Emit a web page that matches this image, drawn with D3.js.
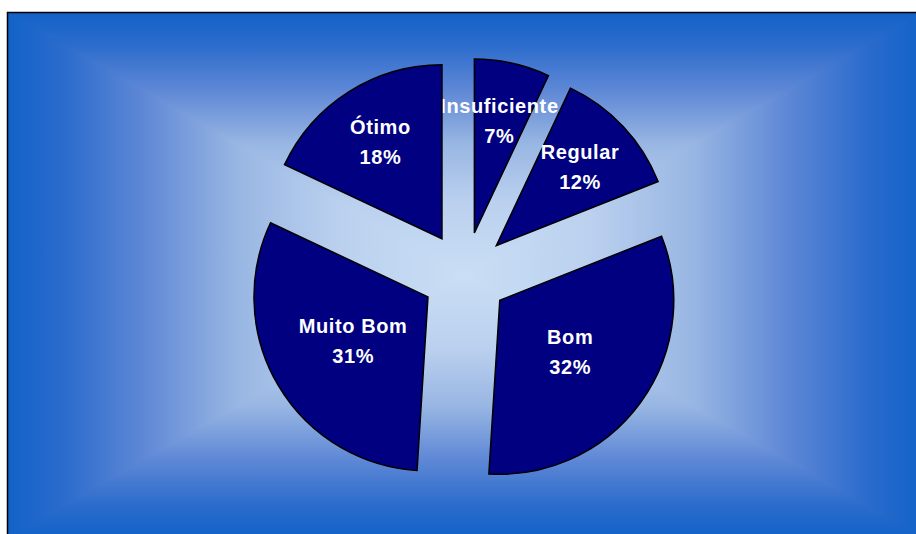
<!DOCTYPE html>
<html>
<head>
<meta charset="utf-8">
<script src="https://cdn.jsdelivr.net/npm/d3@7"></script>
<style>
  html, body { margin: 0; padding: 0; background: #ffffff; }
  svg { display: block; }
  .lbl { font-family: "Liberation Sans", Arial, sans-serif; font-weight: bold; font-size: 20px; fill: #ffffff; letter-spacing: 0.6px; }
</style>
</head>
<body>
<svg id="chart" width="916" height="534"></svg>
<script>
// Rating distribution
const categories = ["Insuficiente", "Regular", "Bom", "Muito Bom", "Ótimo"];
const values = [7, 12, 32, 31, 18];

const W = 916, H = 534;
const svg = d3.select("#chart");

// Chart area frame (runs past the right and bottom of the page)
const frame = { x: 7, y: 12, w: 916, h: 526 };
const cx = frame.x + frame.w / 2, cy = frame.y + frame.h / 2;

// Rectangular "from centre" gradient: four gradients meeting at the centre
const defs = svg.append("defs");
const stops = [
  [0.00, "#1262c8"],
  [0.12, "#2a6bcc"],
  [0.30, "#5f88d6"],
  [0.50, "#98b6e3"],
  [0.72, "#bad0ee"],
  [1.00, "#cadef4"]
];
function grad(id, x1, y1, x2, y2) {
  const g = defs.append("linearGradient").attr("id", id)
    .attr("gradientUnits", "userSpaceOnUse")
    .attr("x1", x1).attr("y1", y1).attr("x2", x2).attr("y2", y2);
  stops.forEach(s => g.append("stop").attr("offset", s[0]).attr("stop-color", s[1]));
}
grad("gL", frame.x, 0, cx, 0);
grad("gR", frame.x + frame.w, 0, cx, 0);
grad("gT", 0, frame.y, 0, cy);
grad("gB", 0, frame.y + frame.h, 0, cy);

const x0 = frame.x, x1 = frame.x + frame.w, y0 = frame.y, y1 = frame.y + frame.h;
const bg = svg.append("g");
bg.append("rect").attr("x", x0).attr("y", y0).attr("width", cx - x0).attr("height", frame.h).attr("fill", "url(#gL)");
bg.append("rect").attr("x", cx).attr("y", y0).attr("width", x1 - cx).attr("height", frame.h).attr("fill", "url(#gR)");
bg.append("path").attr("d", `M${x0},${y0}L${x1},${y0}L${cx},${cy}Z`).attr("fill", "url(#gT)");
bg.append("path").attr("d", `M${x0},${y1}L${x1},${y1}L${cx},${cy}Z`).attr("fill", "url(#gB)");
svg.append("rect").attr("x", x0 + 0.5).attr("y", y0 + 0.5).attr("width", frame.w).attr("height", frame.h)
  .attr("fill", "none").attr("stroke", "#000").attr("stroke-width", 1.5);

// Exploded pie
const pieCx = 465, pieCy = 275;
const radius = 174, explode = 43;
const total = d3.sum(values);

const pie = d3.pie().sort(null).value(d => d.value).startAngle(0).endAngle(2 * Math.PI);
const arcs = pie(categories.map((c, i) => ({ name: c, value: values[i] })));
const arc = d3.arc().innerRadius(0).outerRadius(radius);

const g = svg.append("g").attr("transform", `translate(${pieCx},${pieCy})`);

const slice = g.selectAll("g.slice").data(arcs).join("g")
  .attr("class", "slice")
  .attr("transform", d => {
    const a = (d.startAngle + d.endAngle) / 2;
    return `translate(${explode * Math.sin(a)},${-explode * Math.cos(a)})`;
  });

slice.append("path")
  .attr("d", arc)
  .attr("fill", "#000080")
  .attr("stroke", "#000000")
  .attr("stroke-width", 1.5)
  .attr("stroke-linejoin", "miter");

// Labels: category name and percentage, placed along the slice bisector
const lineGap = 30, capH = 14.3;
slice.each(function (d) {
  const a = (d.startAngle + d.endAngle) / 2;
  const share = d.data.value / total;
  const lr = radius * (share > 0.25 ? 0.5 : 0.66);
  const lx = lr * Math.sin(a), ly = -lr * Math.cos(a);
  const t = d3.select(this).append("text").attr("class", "lbl").attr("text-anchor", "middle");
  const b1 = ly - (lineGap + capH) / 2 + capH;
  t.append("tspan").attr("x", lx).attr("y", b1).text(d.data.name);
  t.append("tspan").attr("x", lx).attr("y", b1 + lineGap).text(Math.round(share * 100) + "%");
});
</script>
</body>
</html>
